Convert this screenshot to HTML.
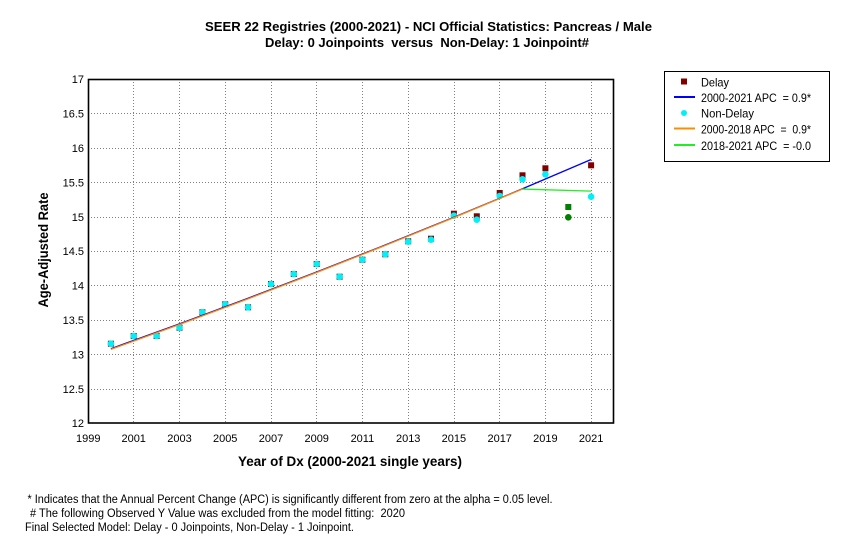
<!DOCTYPE html>
<html><head><meta charset="utf-8"><style>
html,body{margin:0;padding:0;background:#fff;}
svg{display:block;font-family:"Liberation Sans",Arial,sans-serif;}
.pre{white-space:pre;}
</style></head><body>
<svg width="857" height="554" viewBox="0 0 857 554" xmlns="http://www.w3.org/2000/svg">
<rect width="857" height="554" fill="#fff"/>
<!-- title -->
<text x="428.5" y="31" text-anchor="middle" font-size="13" font-weight="bold" textLength="447" lengthAdjust="spacingAndGlyphs">SEER 22 Registries (2000-2021) - NCI Official Statistics: Pancreas / Male</text>
<text x="427" y="47" text-anchor="middle" font-size="13" font-weight="bold" xml:space="preserve" class="pre" textLength="324" lengthAdjust="spacingAndGlyphs">Delay: 0 Joinpoints  versus  Non-Delay: 1 Joinpoint#</text>

<!-- grid -->
<g stroke="#808080" stroke-width="1" stroke-dasharray="1,2" fill="none">
<line x1="88" y1="113.5" x2="614" y2="113.5"/>
<line x1="88" y1="148.5" x2="614" y2="148.5"/>
<line x1="88" y1="182.5" x2="614" y2="182.5"/>
<line x1="88" y1="217.5" x2="614" y2="217.5"/>
<line x1="88" y1="251.5" x2="614" y2="251.5"/>
<line x1="88" y1="285.5" x2="614" y2="285.5"/>
<line x1="88" y1="320.5" x2="614" y2="320.5"/>
<line x1="88" y1="354.5" x2="614" y2="354.5"/>
<line x1="88" y1="389.5" x2="614" y2="389.5"/>
<line x1="133.5" y1="79" x2="133.5" y2="423"/>
<line x1="179.5" y1="79" x2="179.5" y2="423"/>
<line x1="225.5" y1="79" x2="225.5" y2="423"/>
<line x1="271.5" y1="79" x2="271.5" y2="423"/>
<line x1="316.5" y1="79" x2="316.5" y2="423"/>
<line x1="362.5" y1="79" x2="362.5" y2="423"/>
<line x1="408.5" y1="79" x2="408.5" y2="423"/>
<line x1="454.5" y1="79" x2="454.5" y2="423"/>
<line x1="499.5" y1="79" x2="499.5" y2="423"/>
<line x1="545.5" y1="79" x2="545.5" y2="423"/>
<line x1="591.5" y1="79" x2="591.5" y2="423"/>
</g>

<!-- delay squares -->
<g fill="#800000">
<rect x="107.9" y="340.7" width="6" height="6"/>
<rect x="130.7" y="333" width="6" height="6"/>
<rect x="153.6" y="333" width="6" height="6"/>
<rect x="176.5" y="324.7" width="6" height="6"/>
<rect x="199.4" y="309.3" width="6" height="6"/>
<rect x="222.2" y="301.3" width="6" height="6"/>
<rect x="245.1" y="304.3" width="6" height="6"/>
<rect x="268" y="281" width="6" height="6"/>
<rect x="290.8" y="271" width="6" height="6"/>
<rect x="313.7" y="261" width="6" height="6"/>
<rect x="336.6" y="273.7" width="6" height="6"/>
<rect x="359.4" y="256.7" width="6" height="6"/>
<rect x="382.3" y="251.3" width="6" height="6"/>
<rect x="405.2" y="238.3" width="6" height="6"/>
<rect x="428" y="235.7" width="6" height="6"/>
<rect x="450.9" y="210.7" width="6" height="6"/>
<rect x="473.8" y="213.3" width="6" height="6"/>
<rect x="496.7" y="190" width="6" height="6"/>
<rect x="519.5" y="172.3" width="6" height="6"/>
<rect x="542.4" y="165.3" width="6" height="6"/>
<rect x="588.1" y="162.3" width="6" height="6"/>
</g>
<rect x="565.3" y="204" width="6" height="6" fill="#008000"/>

<!-- non-delay circles -->
<g fill="#00F0F8">
<circle cx="110.9" cy="343.7" r="3.3"/>
<circle cx="133.7" cy="336" r="3.3"/>
<circle cx="156.6" cy="336" r="3.3"/>
<circle cx="179.5" cy="327.7" r="3.3"/>
<circle cx="202.4" cy="312.3" r="3.3"/>
<circle cx="225.2" cy="304.3" r="3.3"/>
<circle cx="248.1" cy="307.3" r="3.3"/>
<circle cx="271" cy="284" r="3.3"/>
<circle cx="293.8" cy="274" r="3.3"/>
<circle cx="316.7" cy="264" r="3.3"/>
<circle cx="339.6" cy="276.7" r="3.3"/>
<circle cx="362.4" cy="259.7" r="3.3"/>
<circle cx="385.3" cy="254.3" r="3.3"/>
<circle cx="408.2" cy="241.7" r="3.3"/>
<circle cx="431" cy="239.7" r="3.3"/>
<circle cx="453.9" cy="215.7" r="3.3"/>
<circle cx="476.8" cy="219.7" r="3.3"/>
<circle cx="499.7" cy="196" r="3.3"/>
<circle cx="522.5" cy="179.3" r="3.3"/>
<circle cx="545.4" cy="174.3" r="3.3"/>
<circle cx="591.1" cy="196.7" r="3.3"/>
</g>
<circle cx="568.3" cy="217.3" r="3.3" fill="#008000"/>

<!-- lines -->
<polyline fill="none" stroke="#0000FF" stroke-width="1.3" points="110.87,348.70 179.48,323.82 248.09,298.27 316.70,272.00 385.31,245.02 453.92,217.29 522.53,188.78 591.14,159.50"/>
<polyline fill="none" stroke="#FF8C00" stroke-width="1.3" points="110.87,349.38 179.48,324.46 248.09,298.85 316.70,272.51 385.31,245.45 453.92,217.65 522.53,189.08"/>
<polyline fill="none" stroke="#22EE22" stroke-width="1.3" points="522.53,189.08 591.14,191.14"/>

<!-- plot border -->
<rect x="88.5" y="79.5" width="525" height="343.5" fill="none" stroke="#000" stroke-width="1.6"/>

<!-- y tick labels -->
<g font-size="11" text-anchor="end" fill="#000">
<text x="84" y="83">17</text>
<text x="84" y="117.5">16.5</text>
<text x="84" y="152">16</text>
<text x="84" y="186.5">15.5</text>
<text x="84" y="221">15</text>
<text x="84" y="255">14.5</text>
<text x="84" y="289.5">14</text>
<text x="84" y="324">13.5</text>
<text x="84" y="358.5">13</text>
<text x="84" y="393">12.5</text>
<text x="84" y="427">12</text>
</g>
<!-- x tick labels -->
<g font-size="11" text-anchor="middle" fill="#000">
<text x="88.3" y="442">1999</text>
<text x="133.7" y="442">2001</text>
<text x="179.5" y="442">2003</text>
<text x="225.2" y="442">2005</text>
<text x="271" y="442">2007</text>
<text x="316.7" y="442">2009</text>
<text x="362.4" y="442">2011</text>
<text x="408.2" y="442">2013</text>
<text x="453.9" y="442">2015</text>
<text x="499.7" y="442">2017</text>
<text x="545.4" y="442">2019</text>
<text x="591.1" y="442">2021</text>
</g>

<!-- axis titles -->
<text x="350" y="466" text-anchor="middle" font-size="14" font-weight="bold" textLength="224" lengthAdjust="spacingAndGlyphs">Year of Dx (2000-2021 single years)</text>
<text transform="translate(48,250) rotate(-90)" text-anchor="middle" font-size="14" font-weight="bold" textLength="115" lengthAdjust="spacingAndGlyphs">Age-Adjusted Rate</text>

<!-- legend -->
<rect x="664.5" y="71.5" width="165" height="90" fill="#fff" stroke="#000" stroke-width="1"/>
<rect x="681" y="78.5" width="6" height="6" fill="#800000"/>
<line x1="674" y1="97" x2="695" y2="97" stroke="#0000FF" stroke-width="2"/>
<circle cx="684" cy="113" r="3" fill="#00F0F8"/>
<line x1="674" y1="128.5" x2="695" y2="128.5" stroke="#FF8C00" stroke-width="2"/>
<line x1="674" y1="145" x2="695" y2="145" stroke="#22EE22" stroke-width="2"/>
<g font-size="12" fill="#000">
<text x="701" y="86.5" textLength="28" lengthAdjust="spacingAndGlyphs">Delay</text>
<text x="701" y="102" xml:space="preserve" class="pre" textLength="110" lengthAdjust="spacingAndGlyphs">2000-2021 APC  = 0.9*</text>
<text x="701" y="117.5" textLength="53" lengthAdjust="spacingAndGlyphs">Non-Delay</text>
<text x="701" y="133.5" xml:space="preserve" class="pre" textLength="110" lengthAdjust="spacingAndGlyphs">2000-2018 APC  =  0.9*</text>
<text x="701" y="150" xml:space="preserve" class="pre" textLength="110" lengthAdjust="spacingAndGlyphs">2018-2021 APC  = -0.0</text>
</g>

<!-- footnotes -->
<g font-size="11.5" fill="#000">
<text x="27.5" y="503" textLength="525" lengthAdjust="spacingAndGlyphs">* Indicates that the Annual Percent Change (APC) is significantly different from zero at the alpha = 0.05 level.</text>
<text x="30" y="517" xml:space="preserve" class="pre" textLength="375" lengthAdjust="spacingAndGlyphs"># The following Observed Y Value was excluded from the model fitting:  2020</text>
<text x="25" y="531" textLength="329" lengthAdjust="spacingAndGlyphs">Final Selected Model: Delay - 0 Joinpoints, Non-Delay - 1 Joinpoint.</text>
</g>
</svg>
</body></html>
